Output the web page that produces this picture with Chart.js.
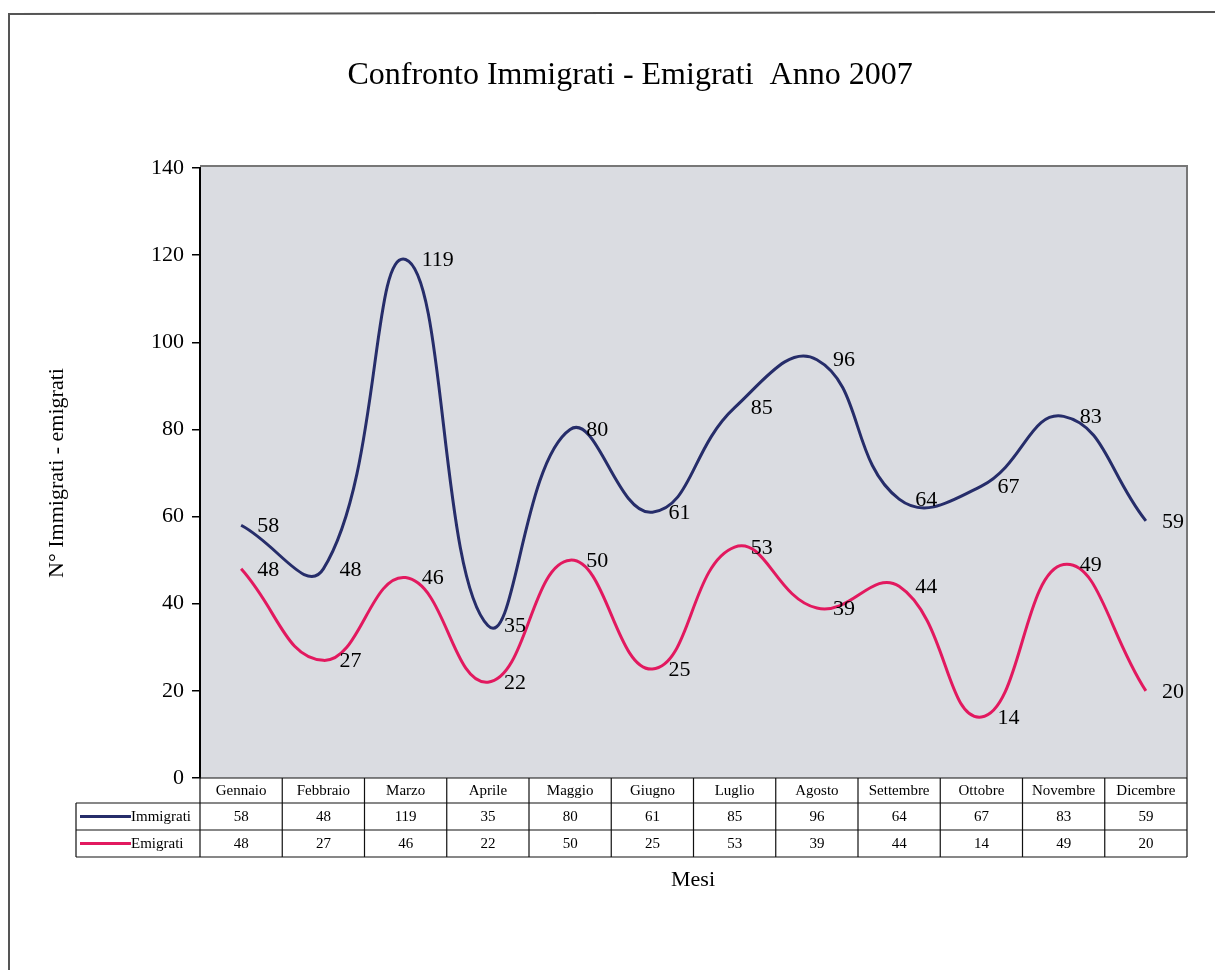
<!DOCTYPE html>
<html>
<head>
<meta charset="utf-8">
<script src="https://cdn.jsdelivr.net/npm/chart.js@4"></script>
<style>
  html, body { margin: 0; padding: 0; background: #fff; overflow: hidden; }
  #wrap { width: 1215px; height: 970px; }
</style>
</head>
<body>
<div id="wrap"><canvas id="myChart" width="1215" height="970"></canvas></div>
<script>
const mesi = ["Gennaio", "Febbraio", "Marzo", "Aprile", "Maggio", "Giugno",
  "Luglio", "Agosto", "Settembre", "Ottobre", "Novembre", "Dicembre"];
const immigrati = [58, 48, 119, 35, 80, 61, 85, 96, 64, 67, 83, 59];
const emigrati = [48, 27, 46, 22, 50, 25, 53, 39, 44, 14, 49, 20];
const yTicks = [0, 20, 40, 60, 80, 100, 120, 140];

const navy = "#262d6a";
const pink = "#e2195f";
const serif = "'Liberation Serif', 'Times New Roman', serif";

// frame, title, plot background
const sfondo = {
  id: "sfondo",
  beforeDraw(chart) {
    const ctx = chart.ctx;
    const a = chart.chartArea;
    ctx.save();
    ctx.strokeStyle = "#555";
    ctx.lineWidth = 2;
    ctx.beginPath();
    ctx.moveTo(9, 975);
    ctx.lineTo(9, 14);
    ctx.lineTo(1220, 12);
    ctx.stroke();

    ctx.fillStyle = "#dadce1";
    ctx.fillRect(a.left, a.top - 2, a.right - a.left, a.bottom - a.top + 2);
    ctx.strokeStyle = "#777";
    ctx.lineWidth = 2;
    ctx.beginPath();
    ctx.moveTo(a.left, a.top - 2);
    ctx.lineTo(a.right, a.top - 2);
    ctx.lineTo(a.right, a.bottom);
    ctx.stroke();

    ctx.fillStyle = "#000";
    ctx.font = "32px " + serif;
    ctx.textAlign = "center";
    ctx.textBaseline = "middle";
    ctx.fillText("Confronto Immigrati - Emigrati  Anno 2007", 630, 76);
    ctx.restore();
  }
};

// value labels next to the points
const etichette = {
  id: "etichette",
  afterDatasetsDraw(chart) {
    const ctx = chart.ctx;
    ctx.save();
    ctx.fillStyle = "#000";
    ctx.font = "22px " + serif;
    ctx.textAlign = "left";
    ctx.textBaseline = "middle";
    chart.data.datasets.forEach((ds, di) => {
      chart.getDatasetMeta(di).data.forEach((pt, i) => {
        ctx.fillText(String(ds.data[i]), pt.x + 16, pt.y + 1);
      });
    });
    ctx.restore();
  }
};

// data table under the plot
const tabella = {
  id: "tabella",
  afterDraw(chart) {
    const ctx = chart.ctx;
    const a = chart.chartArea;
    const xs = chart.scales.x;
    const colW = (a.right - a.left) / mesi.length;
    const r0 = a.bottom, r1 = r0 + 25, r2 = r1 + 27, r3 = r2 + 27;
    const legL = 76;
    ctx.save();
    ctx.strokeStyle = "#111";
    ctx.lineWidth = 1.2;
    ctx.beginPath();
    ctx.moveTo(a.left, r0); ctx.lineTo(a.right, r0);
    ctx.moveTo(legL, r1); ctx.lineTo(a.right, r1);
    ctx.moveTo(legL, r2); ctx.lineTo(a.right, r2);
    ctx.moveTo(legL, r3); ctx.lineTo(a.right, r3);
    ctx.moveTo(legL, r1); ctx.lineTo(legL, r3);
    for (let i = 0; i <= mesi.length; i++) {
      const x = a.left + i * colW;
      ctx.moveTo(x, r0); ctx.lineTo(x, r3);
    }
    ctx.stroke();

    ctx.fillStyle = "#000";
    ctx.font = "15px " + serif;
    ctx.textAlign = "center";
    ctx.textBaseline = "middle";
    mesi.forEach((m, i) => {
      const x = xs.getPixelForValue(i);
      ctx.fillText(m, x, (r0 + r1) / 2 + 1);
      ctx.fillText(String(immigrati[i]), x, (r1 + r2) / 2 + 1);
      ctx.fillText(String(emigrati[i]), x, (r2 + r3) / 2 + 1);
    });

    const righe = [["Immigrati", navy, (r1 + r2) / 2], ["Emigrati", pink, (r2 + r3) / 2]];
    righe.forEach(([nome, col, y]) => {
      ctx.strokeStyle = col;
      ctx.lineWidth = 3;
      ctx.beginPath();
      ctx.moveTo(80, y); ctx.lineTo(131, y);
      ctx.stroke();
      ctx.textAlign = "left";
      ctx.fillText(nome, 131, y + 1);
    });

    ctx.font = "22px " + serif;
    ctx.textAlign = "center";
    ctx.fillText("Mesi", 693, 880);
    ctx.restore();
  }
};

new Chart(document.getElementById("myChart"), {
  type: "line",
  data: {
    labels: mesi,
    datasets: [
      {
        label: "Immigrati",
        data: immigrati,
        borderColor: navy,
        borderWidth: 3,
        pointRadius: 0,
        fill: false,
        tension: 0.45
      },
      {
        label: "Emigrati",
        data: emigrati,
        borderColor: pink,
        borderWidth: 3,
        pointRadius: 0,
        fill: false,
        tension: 0.45
      }
    ]
  },
  options: {
    responsive: false,
    animation: false,
    layout: { padding: { left: 0, right: 28, top: 168, bottom: 192 } },
    plugins: {
      legend: { display: false },
      tooltip: { enabled: false }
    },
    scales: {
      x: { display: false, offset: true },
      y: {
        min: 0,
        max: 140,
        afterBuildTicks: (scale) => { scale.ticks = yTicks.map(v => ({ value: v })); },
        afterFit: (scale) => { scale.width = 200; },
        ticks: { color: "#000", padding: 8, font: { family: serif, size: 22 } },
        grid: { drawOnChartArea: false, tickLength: 8, color: "#000", lineWidth: 1.5 },
        border: { color: "#000", width: 2 },
        title: {
          display: true,
          text: "N° Immigrati - emigrati",
          color: "#000",
          font: { family: serif, size: 22 },
          padding: { top: 44, bottom: 0 }
        }
      }
    }
  },
  plugins: [sfondo, etichette, tabella]
});
</script>
</body>
</html>
